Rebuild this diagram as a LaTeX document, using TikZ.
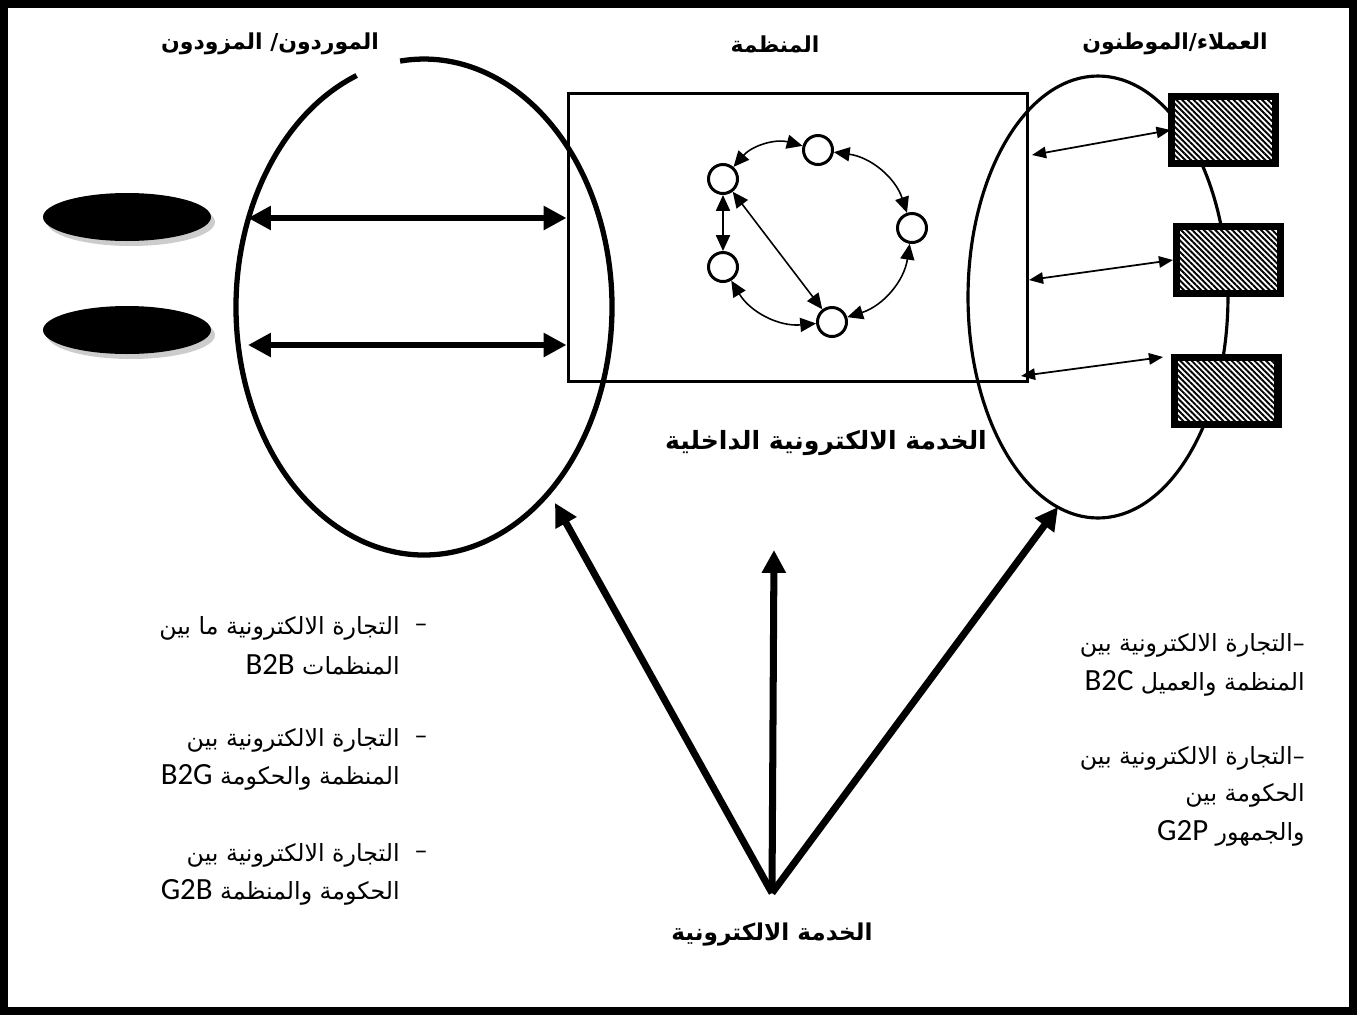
\documentclass[tikz,border=0pt]{standalone}
\usepackage{fontspec}
\usepackage{tikz}
\usetikzlibrary{arrows.meta,positioning,shapes.geometric,patterns.meta}
\newfontfamily\arabicfont[Script=Arabic]{DejaVu Sans}
\newfontfamily\latfont[Scale=1.3]{Carlito}
\TeXXeTstate=1
\newcommand{\ar}[1]{{\arabicfont\beginR #1\endR}}
\newcommand{\lat}[1]{{\latfont\beginL #1\endL}}

\begin{document}
\begin{tikzpicture}[x=0.02cm, y=-0.02cm,
  head/.style={font=\arabicfont\bfseries\fontsize{12.5}{14}\selectfont, inner sep=1pt},
  body/.style={font=\fontsize{13.5}{15}\selectfont, inner sep=0pt, anchor=east},
  dot/.style={circle, draw, line width=1.7pt, minimum size=0.58cm, inner sep=0pt},
  link/.style={{Triangle[length=9pt,width=8pt]}-{Triangle[length=9pt,width=8pt]}, line width=0.9pt},
  fat/.style={{Triangle[length=13pt,width=13pt]}-{Triangle[length=13pt,width=13pt]}, line width=3.7pt},
  thin/.style={{Triangle[length=8pt,width=6.5pt]}-{Triangle[length=8pt,width=6.5pt]}, line width=1pt},
  up/.style={-{Triangle[length=13pt,width=13pt]}, line width=4pt},
  hatchbox/.style={draw, line width=4pt, minimum width=2.08cm, minimum height=1.34cm, preaction={fill=white}, pattern={Lines[angle=-45,distance=2.3pt,line width=1.1pt]}},
  disc/.style={ellipse, fill=black, minimum width=3.36cm, minimum height=0.96cm, inner sep=0pt}]
\useasboundingbox (0,0) rectangle (1357,1015);
\draw[line width=4pt] (4,4) rectangle (1353,1011);
% the two sides and the organisation in the middle
\draw[line width=3pt] ([shift={(111:3.76cm and 4.96cm)}]424,307) arc [start angle=111, end angle=457.3, x radius=3.76cm, y radius=4.96cm];
\draw[line width=1.8pt] (1098,297) ellipse [x radius=2.6cm, y radius=4.42cm];
\node[draw, line width=1.7pt, minimum width=9.2cm, minimum height=5.78cm] (org) at (798,237.5) {};
% suppliers
\foreach \y/\n in {217/d1, 330/d2}
  {\fill[gray!40] (131,\y+5) ellipse [x radius=1.68cm, y radius=0.48cm];
   \node[disc] (\n) at (127,\y) {};}
\coordinate (s1) at (248,218); \coordinate (s2) at (248,345);
\draw[fat] (s1) -- (s1 -| org.west);
\draw[fat] (s2) -- (s2 -| org.west);
% customers
\node[hatchbox] (b1) at (1223.5,130) {};
\node[hatchbox] (b2) at (1228.5,260) {};
\node[hatchbox] (b3) at (1226,391) {};
\coordinate (r1) at (1032,155); \coordinate (r2) at (1029,280);
\coordinate (r3) at (1021,376); \coordinate (q3) at (1163,357);
\draw[thin] (r1) -- (b1.west);
\draw[thin] (r2) -- (b2.west);
\draw[thin] (r3) -- (q3);
% inside the organisation
\node[dot] (c1) at (723,179) {};
\node[dot] (c2) at (818,150) {};
\node[dot] (c3) at (912,228) {};
\node[dot] (c4) at (832,322) {};
\node[dot] (c5) at (723,267) {};
\foreach \a/\b in {c1/c2, c2/c3, c3/c4, c4/c5}
  \draw[link] (\a) to[bend left=32] (\b);
\draw[link] (c1) -- (c5);
\draw[link] (c1) -- (c4);
% titles
\node[head] (t1) at (270,44) {\ar{الموردون/ المزودون}};
\node[head] (t2) at (775,44) {\ar{المنظمة}};
\node[head] (t3) at (1175,44) {\ar{العملاء/الموطنون}};
\node[head, font=\arabicfont\bfseries\fontsize{14.3}{16}\selectfont] (inner) at (826,443) {\ar{الخدمة الالكترونية الداخلية}};
\node[head, font=\arabicfont\bfseries\fontsize{13.2}{15}\selectfont] (eserv) at (772,935) {\ar{الخدمة الالكترونية}};
% e-service arrows
\coordinate (base) at (772,893);
\coordinate (u1) at (555,503); \coordinate (u2) at (774,550); \coordinate (u3) at (1058,507);
\foreach \u in {u1,u2,u3} \draw[up] (base) -- (\u);
% kinds of e-commerce
\foreach \y/\t [count=\i] in {628/{التجارة الالكترونية  ما بين}, 665/{المنظمات  \lat{B2B}},
    740/{التجارة الالكترونية  بين}, 777/{المنظمة والحكومة  \lat{B2G}},
    855/{التجارة الالكترونية بين}, 892/{الحكومة والمنظمة  \lat{G2B}}}
  \node[body] (l\i) at (400,\y) {\ar{\t}};
\foreach \y/\n in {628/m1, 740/m2, 855/m3} \node[body, anchor=center] (\n) at (421,\y) {\ar{–}};
\foreach \y/\t [count=\i] in {645/{–التجارة الالكترونية بين}, 683/{المنظمة والعميل  \lat{B2C}},
    758/{–التجارة الالكترونية بين}, 795/{الحكومة بين}, 833/{والجمهور \lat{G2P}}}
  \node[body] (k\i) at (1305,\y) {\ar{\t}};
\end{tikzpicture}
\end{document}
